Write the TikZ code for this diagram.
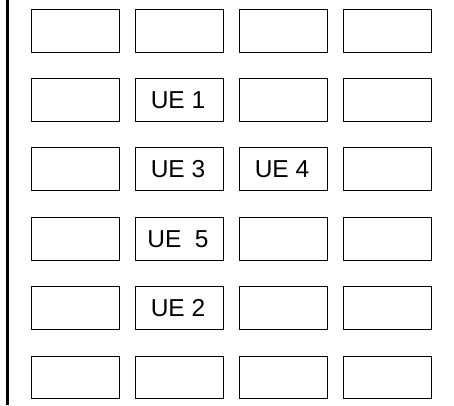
\documentclass[tikz,border=0pt]{standalone}
\usepackage{fontspec}
\setmainfont{Liberation Sans}
\begin{document}
\begin{tikzpicture}[x=1pt,y=-1pt,
  cell/.style={draw=black,line width=1pt,minimum width=88pt,minimum height=42.5pt,inner sep=0pt,anchor=north west},
  lbl/.style={font=\fontsize{24.5}{28}\selectfont,inner sep=0pt,xshift=-1.5pt,yshift=-0.5pt},
  axis/.style={draw=black,line width=2.6pt}]
\useasboundingbox (0,0) rectangle (454,405);
\coordinate (top) at (7.5,0);
\coordinate (bot) at (7.5,405);
\draw[axis] (top) -- (bot);
\foreach \c [count=\i] in {31,135,239,343}{
  \foreach \r [count=\j] in {9,78.3,147.3,217.3,286,355.7}{
    \node[cell] (c\i r\j) at (\c,\r) {};
  }
}
\node[lbl] (ue1) at (c2r2.center) {UE 1};
\node[lbl] (ue3) at (c2r3.center) {UE 3};
\node[lbl] (ue4) at (c3r3.center) {UE 4};
\node[lbl] (ue5) at (c2r4.center) {UE\ \ 5};
\node[lbl] (ue2) at (c2r5.center) {UE 2};
\end{tikzpicture}
\end{document}
